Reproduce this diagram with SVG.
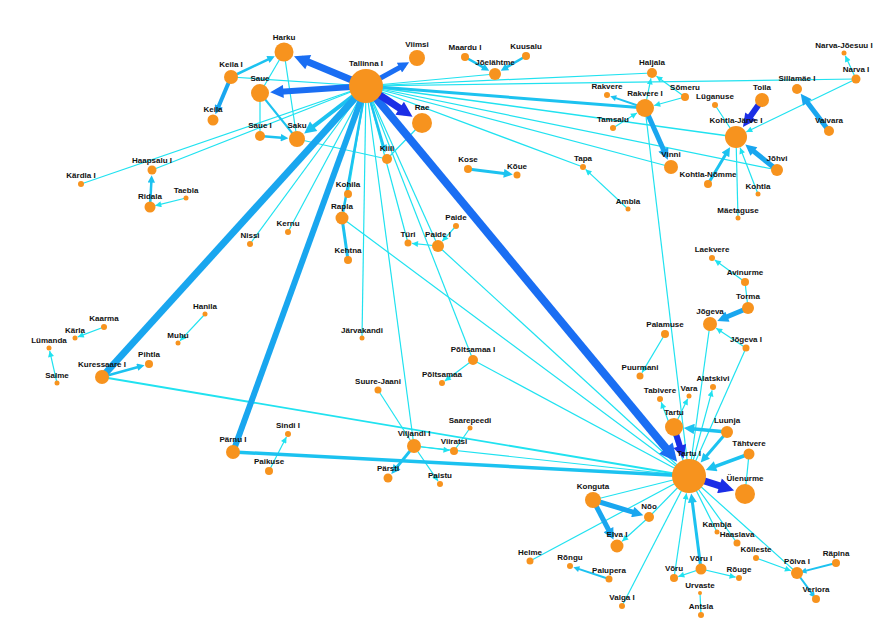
<svg xmlns="http://www.w3.org/2000/svg" width="894" height="636" viewBox="0 0 894 636">
<style>
.e1{stroke:#20e2f0;fill:none}
.e2{stroke:#1cc2f0;fill:none}
.e3{stroke:#19a6ef;fill:none}
.e4{stroke:#1a6ef3;fill:none}
.e5{stroke:#1b2ee6;fill:none}
circle{fill:#f7931e}
text{font-family:"Liberation Sans",Arial,sans-serif;font-size:8px;font-weight:bold;fill:#111;text-anchor:middle}
</style>
<defs>
<marker id="a1" viewBox="0 0 10 10" refX="10" refY="5" markerWidth="6" markerHeight="5" markerUnits="strokeWidth" orient="auto"><path d="M0,0L10,5L0,10z" fill="#20e2f0"/></marker>
<marker id="a2" viewBox="0 0 10 10" refX="5" refY="5" markerWidth="3.5" markerHeight="3" markerUnits="strokeWidth" orient="auto"><path d="M0,0L10,5L0,10z" fill="#1cc2f0"/></marker>
<marker id="a3" viewBox="0 0 10 10" refX="5" refY="5" markerWidth="2.6" markerHeight="2.2" markerUnits="strokeWidth" orient="auto"><path d="M0,0L10,5L0,10z" fill="#19a6ef"/></marker>
<marker id="a4" viewBox="0 0 10 10" refX="5" refY="5" markerWidth="2.6" markerHeight="2.2" markerUnits="strokeWidth" orient="auto"><path d="M0,0L10,5L0,10z" fill="#1a6ef3"/></marker>
<marker id="a5" viewBox="0 0 10 10" refX="5" refY="5" markerWidth="2.6" markerHeight="2.2" markerUnits="strokeWidth" orient="auto"><path d="M0,0L10,5L0,10z" fill="#1b2ee6"/></marker>
</defs>
<g id="connectors">
<g class="e1" stroke-width="1.2">
<line x1="366" y1="86" x2="231" y2="77"/>
<line x1="366" y1="86" x2="152" y2="170"/>
<line x1="366" y1="86" x2="81" y2="184"/>
<line x1="366" y1="86" x2="250" y2="244"/>
<line x1="366" y1="86" x2="288" y2="232"/>
<line x1="366" y1="86" x2="348" y2="194"/>
<line x1="366" y1="86" x2="362" y2="338"/>
<line x1="366" y1="86" x2="408" y2="243"/>
<line x1="366" y1="86" x2="438" y2="246"/>
<line x1="366" y1="86" x2="473" y2="360"/>
<line x1="366" y1="86" x2="414" y2="446"/>
<line x1="366" y1="86" x2="495" y2="74"/>
<line x1="366" y1="86" x2="652" y2="73"/>
<line x1="366" y1="86" x2="856" y2="79"/>
<line x1="366" y1="86" x2="736" y2="137" stroke-width="1.5"/>
<line x1="366" y1="86" x2="777" y2="170"/>
<line x1="366" y1="86" x2="671" y2="167"/>
<line x1="366" y1="86" x2="583" y2="167"/>
<line x1="260" y1="93" x2="284" y2="52"/>
<line x1="284" y1="52" x2="297" y2="139"/>
<line x1="260" y1="93" x2="260" y2="136"/>
<line x1="297" y1="139" x2="387" y2="159"/>
<line x1="387" y1="159" x2="422" y2="123"/>
<line x1="102" y1="377" x2="689" y2="476" stroke-width="1.8"/>
<line x1="342" y1="218" x2="689" y2="476"/>
<line x1="438" y1="246" x2="689" y2="476"/>
<line x1="473" y1="360" x2="689" y2="476"/>
<line x1="414" y1="446" x2="689" y2="476"/>
<line x1="378" y1="390" x2="414" y2="446"/>
<line x1="470" y1="428" x2="454" y2="451"/>
<line x1="645" y1="108" x2="689" y2="476"/>
<line x1="715" y1="105" x2="736" y2="137"/>
<line x1="738" y1="218" x2="736" y2="137"/>
<line x1="745" y1="282" x2="748" y2="308"/>
<line x1="710" y1="324" x2="689" y2="476"/>
<line x1="746" y1="348" x2="689" y2="476"/>
<line x1="749" y1="454" x2="745" y2="494"/>
<line x1="700" y1="593" x2="701" y2="615"/>
<line x1="717" y1="532" x2="689" y2="476"/>
<line x1="737" y1="543" x2="689" y2="476"/>
<line x1="797" y1="573" x2="689" y2="476"/>
<line x1="593" y1="500" x2="689" y2="476"/>
<line x1="649" y1="517" x2="689" y2="476"/>
<line x1="530" y1="561" x2="689" y2="476"/>
<line x1="622" y1="606" x2="689" y2="476"/>
</g>
<g class="e1" stroke-width="1.2" marker-end="url(#a1)">
<line x1="186" y1="198" x2="155.3" y2="205.7"/>
<line x1="104" y1="327" x2="77.8" y2="336.9"/>
<line x1="57" y1="383" x2="49.7" y2="350.9"/>
<line x1="205" y1="314" x2="180" y2="340.8"/>
<line x1="269" y1="471" x2="286.4" y2="437.1"/>
<line x1="414" y1="446" x2="449.5" y2="450.4"/>
<line x1="414" y1="446" x2="438" y2="481.1"/>
<line x1="473" y1="360" x2="444.8" y2="380.9"/>
<line x1="456" y1="226" x2="442.3" y2="241.2"/>
<line x1="438" y1="246" x2="412" y2="243.4"/>
<line x1="628" y1="209" x2="585.6" y2="169.4"/>
<line x1="613" y1="128" x2="636.9" y2="113"/>
<line x1="685" y1="97" x2="654.2" y2="105.5"/>
<line x1="645" y1="108" x2="650.9" y2="78.4"/>
<line x1="685" y1="97" x2="656.4" y2="76.2"/>
<line x1="758" y1="194" x2="740.1" y2="147.7"/>
<line x1="856" y1="79" x2="746.3" y2="132"/>
<line x1="856" y1="79" x2="845.3" y2="55.7"/>
<line x1="746" y1="348" x2="716.2" y2="328.2"/>
<line x1="745" y1="282" x2="714.8" y2="260.1"/>
<line x1="665" y1="334" x2="642" y2="372.6"/>
<line x1="689" y1="476" x2="661.2" y2="402.3"/>
<line x1="674" y1="427" x2="687.7" y2="398.7"/>
<line x1="689" y1="476" x2="712.1" y2="390.4"/>
<line x1="701" y1="569" x2="678.3" y2="576.6"/>
<line x1="701" y1="569" x2="735.6" y2="577.2"/>
<line x1="674" y1="578" x2="686.5" y2="493.3"/>
<line x1="756" y1="558" x2="790.9" y2="570.8"/>
<line x1="649" y1="517" x2="622.2" y2="541.3"/>
</g>
<g class="e2">
<line x1="366" y1="86" x2="342" y2="218" stroke-width="2.5"/>
<line x1="366" y1="86" x2="645" y2="108" stroke-width="3"/>
<line x1="342" y1="218" x2="348" y2="260" stroke-width="3"/>
<line x1="233" y1="452" x2="689" y2="476" stroke-width="3.5"/>
<line x1="260" y1="93" x2="297" y2="139" stroke-width="2"/>
</g>
<g class="e2" marker-end="url(#a2)">
<line x1="366" y1="86" x2="308.9" y2="129.9" stroke-width="4"/>
<line x1="366" y1="86" x2="384.4" y2="149" stroke-width="2.5"/>
<line x1="231" y1="77" x2="271.4" y2="57.9" stroke-width="2.5"/>
<line x1="260" y1="136" x2="284.6" y2="138" stroke-width="2.5"/>
<line x1="150" y1="207" x2="151.5" y2="178.9" stroke-width="2.5"/>
<line x1="102" y1="377" x2="140.9" y2="366.2" stroke-width="2.5"/>
<line x1="414" y1="446" x2="394.2" y2="470.4" stroke-width="3"/>
<line x1="468" y1="169" x2="508.3" y2="173.9" stroke-width="3"/>
<line x1="465" y1="57" x2="486" y2="68.9" stroke-width="2.5"/>
<line x1="526" y1="56" x2="504" y2="68.8" stroke-width="2.5"/>
<line x1="645" y1="108" x2="613.1" y2="97.1" stroke-width="2"/>
<line x1="708" y1="184" x2="727.7" y2="151" stroke-width="3"/>
<line x1="727" y1="432" x2="689" y2="428.4" stroke-width="3.5"/>
<line x1="727" y1="432" x2="703.6" y2="459.2" stroke-width="3"/>
<line x1="749" y1="454" x2="710.7" y2="468.1" stroke-width="3.5"/>
<line x1="701" y1="569" x2="691.8" y2="498" stroke-width="3"/>
<line x1="836" y1="563" x2="803.3" y2="571.4" stroke-width="2"/>
<line x1="797" y1="573" x2="813.3" y2="595.4" stroke-width="2"/>
<line x1="609" y1="579" x2="576.2" y2="568.1" stroke-width="2"/>
</g>
<g class="e3">
<line x1="102" y1="377" x2="366" y2="86" stroke-width="7"/>
<line x1="233" y1="452" x2="366" y2="86" stroke-width="6"/>
</g>
<g class="e3" marker-end="url(#a3)">
<line x1="231" y1="77" x2="217.1" y2="110.1" stroke-width="4"/>
<line x1="645" y1="108" x2="665.6" y2="154.6" stroke-width="5"/>
<line x1="777" y1="170" x2="749.6" y2="148" stroke-width="5"/>
<line x1="829" y1="131" x2="804" y2="98.1" stroke-width="5"/>
<line x1="748" y1="308" x2="722.4" y2="318.8" stroke-width="5"/>
<line x1="593" y1="500" x2="638" y2="513.7" stroke-width="5"/>
<line x1="593" y1="500" x2="611" y2="534.5" stroke-width="5"/>
</g>
<g class="e4" marker-end="url(#a4)">
<line x1="366" y1="86" x2="301.1" y2="59.1" stroke-width="7"/>
<line x1="366" y1="86" x2="276.8" y2="91.9" stroke-width="6"/>
<line x1="366" y1="86" x2="404.3" y2="65" stroke-width="5"/>
<line x1="366" y1="86" x2="671.5" y2="454.9" stroke-width="8"/>
</g>
<g class="e5" marker-end="url(#a5)">
<line x1="366" y1="86" x2="406.1" y2="112.5" stroke-width="7"/>
<line x1="762" y1="100" x2="746.8" y2="121.6" stroke-width="6"/>
<line x1="689" y1="476" x2="726.8" y2="488.2" stroke-width="7"/>
<line x1="674" y1="427" x2="681.7" y2="452.3" stroke-width="6"/>
</g>
</g>
<g id="n-tallinna-i"><circle cx="366" cy="86" r="17"/><text x="366" y="66">Tallinna I</text></g>
<g id="n-harku"><circle cx="284" cy="52" r="9.5"/><text x="284" y="39.5">Harku</text></g>
<g id="n-viimsi"><circle cx="417" cy="58" r="8"/><text x="417" y="47">Viimsi</text></g>
<g id="n-keila-i"><circle cx="231" cy="77" r="7"/><text x="231" y="67">Keila I</text></g>
<g id="n-saue"><circle cx="260" cy="93" r="9"/><text x="260" y="81">Saue</text></g>
<g id="n-keila"><circle cx="213" cy="120" r="5.5"/><text x="213" y="111.5">Keila</text></g>
<g id="n-saue-i"><circle cx="260" cy="136" r="5"/><text x="260" y="128">Saue I</text></g>
<g id="n-saku"><circle cx="297" cy="139" r="8"/><text x="297" y="128">Saku</text></g>
<g id="n-rae"><circle cx="422" cy="123" r="10"/><text x="422" y="110">Rae</text></g>
<g id="n-kiili"><circle cx="387" cy="159" r="5"/><text x="387" y="151">Kiili</text></g>
<g id="n-kohila"><circle cx="348" cy="194" r="4"/><text x="348" y="187">Kohila</text></g>
<g id="n-rapla"><circle cx="342" cy="218" r="6.5"/><text x="342" y="208.5">Rapla</text></g>
<g id="n-kehtna"><circle cx="348" cy="260" r="4"/><text x="348" y="253">Kehtna</text></g>
<g id="n-tyri"><circle cx="408" cy="243" r="3.5"/><text x="408" y="236.5">Türi</text></g>
<g id="n-paide-i"><circle cx="438" cy="246" r="6"/><text x="438" y="237">Paide I</text></g>
<g id="n-paide"><circle cx="456" cy="226" r="3"/><text x="456" y="220">Paide</text></g>
<g id="n-nissi"><circle cx="250" cy="244" r="3"/><text x="250" y="238">Nissi</text></g>
<g id="n-kernu"><circle cx="288" cy="232" r="3"/><text x="288" y="226">Kernu</text></g>
<g id="n-jarvakandi"><circle cx="362" cy="338" r="2.5"/><text x="362" y="332.5">Järvakandi</text></g>
<g id="n-haapsalu-i"><circle cx="152" cy="170" r="4.5"/><text x="152" y="162.5">Haapsalu I</text></g>
<g id="n-kardla-i"><circle cx="81" cy="184" r="3"/><text x="81" y="178">Kärdla I</text></g>
<g id="n-ridala"><circle cx="150" cy="207" r="5.5"/><text x="150" y="198.5">Ridala</text></g>
<g id="n-taebla"><circle cx="186" cy="198" r="2.5"/><text x="186" y="192.5">Taebla</text></g>
<g id="n-maardu-i"><circle cx="465" cy="57" r="4"/><text x="465" y="50">Maardu I</text></g>
<g id="n-kuusalu"><circle cx="526" cy="56" r="4"/><text x="526" y="49">Kuusalu</text></g>
<g id="n-joelahtme"><circle cx="495" cy="74" r="6"/><text x="495" y="65">Jõelähtme</text></g>
<g id="n-kose"><circle cx="468" cy="169" r="4"/><text x="468" y="162">Kose</text></g>
<g id="n-koue"><circle cx="517" cy="175" r="3.5"/><text x="517" y="168.5">Kõue</text></g>
<g id="n-tapa"><circle cx="583" cy="167" r="3"/><text x="583" y="161">Tapa</text></g>
<g id="n-ambla"><circle cx="628" cy="209" r="2.5"/><text x="628" y="203.5">Ambla</text></g>
<g id="n-haljala"><circle cx="652" cy="73" r="5"/><text x="652" y="65">Haljala</text></g>
<g id="n-rakvere"><circle cx="607" cy="95" r="3"/><text x="607" y="89">Rakvere</text></g>
<g id="n-rakvere-i"><circle cx="645" cy="108" r="9"/><text x="645" y="96">Rakvere I</text></g>
<g id="n-tamsalu"><circle cx="613" cy="128" r="3"/><text x="613" y="122">Tamsalu</text></g>
<g id="n-someru"><circle cx="685" cy="97" r="4"/><text x="685" y="90">Sõmeru</text></g>
<g id="n-vinni"><circle cx="671" cy="167" r="7"/><text x="671" y="157">Vinni</text></g>
<g id="n-lyganuse"><circle cx="715" cy="105" r="3"/><text x="715" y="99">Lüganuse</text></g>
<g id="n-toila"><circle cx="762" cy="100" r="7"/><text x="762" y="90">Toila</text></g>
<g id="n-kohtla-jarve-i"><circle cx="736" cy="137" r="11"/><text x="736" y="123">Kohtla-Järve I</text></g>
<g id="n-kohtla-nomme"><circle cx="708" cy="184" r="4"/><text x="708" y="177">Kohtla-Nõmme</text></g>
<g id="n-kohtla"><circle cx="758" cy="194" r="2.5"/><text x="758" y="188.5">Kohtla</text></g>
<g id="n-johvi"><circle cx="777" cy="170" r="6"/><text x="777" y="161">Jõhvi</text></g>
<g id="n-maetaguse"><circle cx="738" cy="218" r="2.5"/><text x="738" y="212.5">Mäetaguse</text></g>
<g id="n-sillamae-i"><circle cx="797" cy="89" r="5"/><text x="797" y="81">Sillamäe I</text></g>
<g id="n-narva-i"><circle cx="856" cy="79" r="4.5"/><text x="856" y="71.5">Narva I</text></g>
<g id="n-narva-joesuu-i"><circle cx="844" cy="53" r="2.5"/><text x="844" y="47.5">Narva-Jõesuu I</text></g>
<g id="n-vaivara"><circle cx="829" cy="131" r="5"/><text x="829" y="123">Vaivara</text></g>
<g id="n-laekvere"><circle cx="712" cy="258" r="3"/><text x="712" y="252">Laekvere</text></g>
<g id="n-avinurme"><circle cx="745" cy="282" r="4"/><text x="745" y="275">Avinurme</text></g>
<g id="n-torma"><circle cx="748" cy="308" r="6"/><text x="748" y="299">Torma</text></g>
<g id="n-jogeva"><circle cx="710" cy="324" r="7"/><text x="710" y="314">Jõgeva</text></g>
<g id="n-jogeva-i"><circle cx="746" cy="348" r="3.5"/><text x="746" y="341.5">Jõgeva I</text></g>
<g id="n-palamuse"><circle cx="665" cy="334" r="4"/><text x="665" y="327">Palamuse</text></g>
<g id="n-puurmani"><circle cx="640" cy="376" r="3.5"/><text x="640" y="369.5">Puurmani</text></g>
<g id="n-tabivere"><circle cx="660" cy="399" r="3"/><text x="660" y="393">Tabivere</text></g>
<g id="n-vara"><circle cx="689" cy="396" r="2.5"/><text x="689" y="390.5">Vara</text></g>
<g id="n-alatskivi"><circle cx="713" cy="387" r="3"/><text x="713" y="381">Alatskivi</text></g>
<g id="n-tartu"><circle cx="674" cy="427" r="9"/><text x="674" y="415">Tartu</text></g>
<g id="n-luunja"><circle cx="727" cy="432" r="6"/><text x="727" y="423">Luunja</text></g>
<g id="n-tahtvere"><circle cx="749" cy="454" r="5.5"/><text x="749" y="445.5">Tähtvere</text></g>
<g id="n-tartu-i"><circle cx="689" cy="476" r="17"/><text x="689" y="456">Tartu I</text></g>
<g id="n-ylenurme"><circle cx="745" cy="494" r="10"/><text x="745" y="481">Ülenurme</text></g>
<g id="n-kambja"><circle cx="717" cy="532" r="2.5"/><text x="717" y="526.5">Kambja</text></g>
<g id="n-haaslava"><circle cx="737" cy="543" r="3.5"/><text x="737" y="536.5">Haaslava</text></g>
<g id="n-kolleste"><circle cx="756" cy="558" r="3"/><text x="756" y="552">Kõlleste</text></g>
<g id="n-polva-i"><circle cx="797" cy="573" r="6"/><text x="797" y="564">Põlva I</text></g>
<g id="n-rapina"><circle cx="836" cy="563" r="4"/><text x="836" y="556">Räpina</text></g>
<g id="n-veriora"><circle cx="816" cy="599" r="4"/><text x="816" y="592">Veriora</text></g>
<g id="n-voru-i"><circle cx="701" cy="569" r="5.5"/><text x="701" y="560.5">Võru I</text></g>
<g id="n-voru"><circle cx="674" cy="578" r="4"/><text x="674" y="571">Võru</text></g>
<g id="n-rouge"><circle cx="739" cy="578" r="3"/><text x="739" y="572">Rõuge</text></g>
<g id="n-urvaste"><circle cx="700" cy="593" r="2"/><text x="700" y="588">Urvaste</text></g>
<g id="n-antsla"><circle cx="701" cy="615" r="3"/><text x="701" y="609">Antsla</text></g>
<g id="n-konguta"><circle cx="593" cy="500" r="8"/><text x="593" y="489">Konguta</text></g>
<g id="n-noo"><circle cx="649" cy="517" r="5"/><text x="649" y="509">Nõo</text></g>
<g id="n-elva-i"><circle cx="617" cy="546" r="6.5"/><text x="617" y="536.5">Elva I</text></g>
<g id="n-helme"><circle cx="530" cy="561" r="3.5"/><text x="530" y="554.5">Helme</text></g>
<g id="n-rongu"><circle cx="570" cy="566" r="3"/><text x="570" y="560">Rõngu</text></g>
<g id="n-palupera"><circle cx="609" cy="579" r="3.5"/><text x="609" y="572.5">Palupera</text></g>
<g id="n-valga-i"><circle cx="622" cy="606" r="3"/><text x="622" y="600">Valga I</text></g>
<g id="n-poltsamaa-i"><circle cx="473" cy="360" r="5"/><text x="473" y="352">Põltsamaa I</text></g>
<g id="n-poltsamaa"><circle cx="442" cy="383" r="3"/><text x="442" y="377">Põltsamaa</text></g>
<g id="n-suure-jaani"><circle cx="378" cy="390" r="3.5"/><text x="378" y="383.5">Suure-Jaani</text></g>
<g id="n-saarepeedi"><circle cx="470" cy="428" r="2.5"/><text x="470" y="422.5">Saarepeedi</text></g>
<g id="n-viljandi-i"><circle cx="414" cy="446" r="7"/><text x="414" y="436">Viljandi I</text></g>
<g id="n-viiratsi"><circle cx="454" cy="451" r="4"/><text x="454" y="444">Viiratsi</text></g>
<g id="n-parsti"><circle cx="388" cy="478" r="4.5"/><text x="388" y="470.5">Pärsti</text></g>
<g id="n-paistu"><circle cx="440" cy="484" r="3"/><text x="440" y="478">Paistu</text></g>
<g id="n-parnu-i"><circle cx="233" cy="452" r="7"/><text x="233" y="442">Pärnu I</text></g>
<g id="n-sindi-i"><circle cx="288" cy="434" r="3"/><text x="288" y="428">Sindi I</text></g>
<g id="n-paikuse"><circle cx="269" cy="471" r="4"/><text x="269" y="464">Paikuse</text></g>
<g id="n-kuressaare-i"><circle cx="102" cy="377" r="7"/><text x="102" y="367">Kuressaare I</text></g>
<g id="n-pihtla"><circle cx="149" cy="364" r="4"/><text x="149" y="357">Pihtla</text></g>
<g id="n-hanila"><circle cx="205" cy="314" r="2.5"/><text x="205" y="308.5">Hanila</text></g>
<g id="n-muhu"><circle cx="178" cy="343" r="2.5"/><text x="178" y="337.5">Muhu</text></g>
<g id="n-kaarma"><circle cx="104" cy="327" r="3"/><text x="104" y="321">Kaarma</text></g>
<g id="n-karla"><circle cx="75" cy="338" r="2.5"/><text x="75" y="332.5">Kärla</text></g>
<g id="n-lymanda"><circle cx="49" cy="348" r="2.5"/><text x="49" y="342.5">Lümanda</text></g>
<g id="n-salme"><circle cx="57" cy="383" r="2.5"/><text x="57" y="377.5">Salme</text></g>
</svg>
